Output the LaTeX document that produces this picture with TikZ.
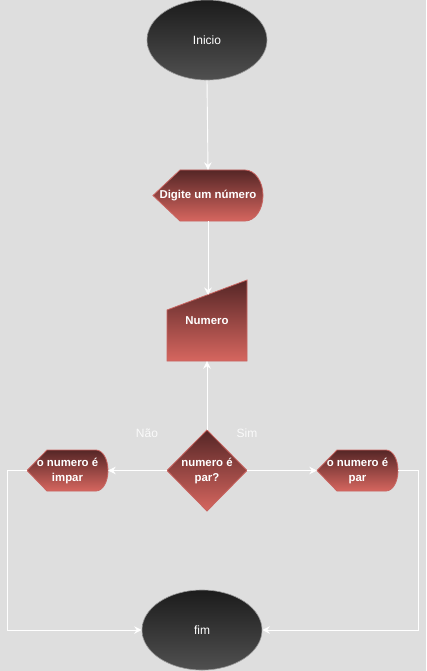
\documentclass[tikz,border=0pt]{standalone}
\usepackage{fontspec}
\setmainfont{Liberation Sans}
\usetikzlibrary{arrows.meta,shapes.geometric}
\definecolor{bg}{HTML}{DEDEDE}
\definecolor{redtop}{HTML}{552626}
\definecolor{redbot}{HTML}{D6665F}
\definecolor{redline}{HTML}{C86460}
\definecolor{gtop}{HTML}{1C1C1C}
\definecolor{gbot}{HTML}{505050}
\begin{document}
\begin{tikzpicture}[x=1pt,y=-1pt,
 redfill/.style={top color=redtop,bottom color=redbot,draw=redline,line width=0.8pt},
 darkfill/.style={top color=gtop,bottom color=gbot,draw=gray!80,line width=0.6pt},
 lbl/.style={text=white,font=\fontsize{11.4}{15}\selectfont\bfseries,align=center,inner sep=0pt},
 termtxt/.style={text=white,font=\fontsize{12}{15}\selectfont},
 side/.style={text=white!96!gray,font=\fontsize{12}{15}\selectfont},
 conn/.style={draw=white,line width=0.9pt,-{Stealth[length=7.5pt,width=7.5pt,inset=2.5pt]}}]
\fill[bg] (0,0) rectangle (426,671);
\useasboundingbox (0,0) rectangle (426,671);
% start
\node[ellipse,darkfill,minimum width=120pt,minimum height=80pt,inner sep=0pt,termtxt] (ini) at (207,40) {Inicio};
% display: Digite
\path[redfill] (153,195.5) -- (180,170) -- (245,170) arc[start angle=90,end angle=-90,x radius=18pt,y radius=25.5pt] -- (180,221) -- cycle;
\node[lbl,minimum width=110pt,minimum height=51pt] (dig) at (208,195.5) {Digite um número};
% manual input: Numero
\path[redfill] (167,310) -- (247,280) -- (247,361) -- (167,361) -- cycle;
\node[lbl,minimum width=80pt,minimum height=81pt] (num) at (207,320.5) {Numero};
\coordinate (numtop) at (208,295);
% decision
\path[redfill] (207,430) -- (247,470.5) -- (207,511) -- (167,470.5) -- cycle;
\node[lbl,minimum width=80pt,minimum height=81pt] (dec) at (207,470.5) {numero é\\par?};
% left display
\path[redfill] (27,470.5) -- (47,450) -- (96,450) arc[start angle=90,end angle=-90,x radius=12pt,y radius=20.5pt] -- (47,491) -- cycle;
\node[lbl,minimum width=81pt,minimum height=41pt] (imp) at (67.5,470.5) {o numero é\\impar};
% right display
\path[redfill] (317,470.5) -- (337,450) -- (386,450) arc[start angle=90,end angle=-90,x radius=12pt,y radius=20.5pt] -- (337,491) -- cycle;
\node[lbl,minimum width=81pt,minimum height=41pt] (par) at (357.5,470.5) {o numero é\\par};
% end
\node[ellipse,darkfill,minimum width=120pt,minimum height=80pt,inner sep=0pt,termtxt] (fim) at (202,630) {fim};
% labels
\node[side] (nao) at (147,433) {Não};
\node[side] (sim) at (247,433) {Sim};
% connectors
\draw[conn] (ini.south) -- (dig.north);
\draw[conn] (dig.south) -- (numtop);
\draw[conn] (dec.north) -- (num.south);
\draw[conn] (dec.west) -- (imp.east);
\draw[conn] (dec.east) -- (par.west);
\draw[conn] (imp.west) -- ++(-19,0) |- (fim.west);
\draw[conn] (par.east) -- ++(20,0) |- (fim.east);
\end{tikzpicture}
\end{document}
